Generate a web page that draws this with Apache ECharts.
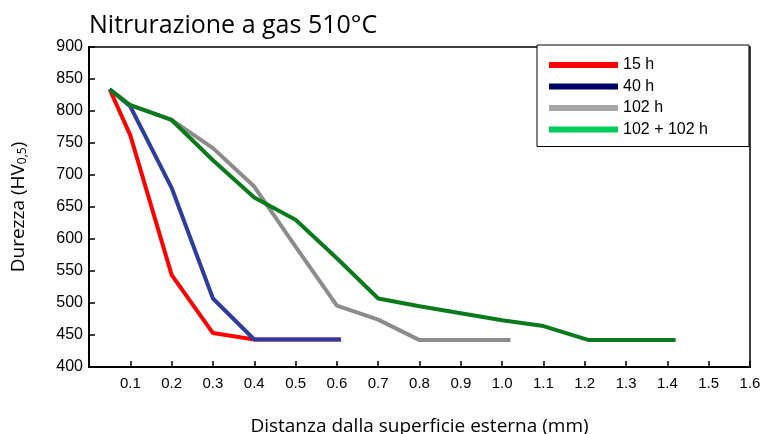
<!DOCTYPE html>
<html>
<head>
<meta charset="utf-8">
<script src="https://cdn.jsdelivr.net/npm/echarts@6/dist/echarts.min.js"></script>
<style>
  html, body { margin: 0; padding: 0; background: #fff; }
  #main { width: 762px; height: 434px; }
</style>
</head>
<body>
<div id="main"></div>
<script>
// dati
var seriesNames = ['15 h', '40 h', '102 h', '102 + 102 h'];

var dist15 = [0.05, 0.1, 0.2, 0.3, 0.4, 0.5, 0.61];
var hv15 = [834, 762, 544, 453, 443, 443, 443];

var dist40 = [0.05, 0.1, 0.2, 0.3, 0.4, 0.5, 0.61];
var hv40 = [834, 807, 680, 507, 443, 443, 443];

var dist102 = [0.05, 0.1, 0.2, 0.3, 0.4, 0.5, 0.6, 0.7, 0.8, 0.9, 1.02];
var hv102 = [834, 809, 786, 742, 682, 588, 496, 474, 442, 442, 442];

var dist204 = [0.05, 0.1, 0.2, 0.3, 0.4, 0.5, 0.6, 0.7, 0.8, 0.9, 1.0, 1.1, 1.21, 1.42];
var hv204 = [834, 809, 786, 723, 665, 630, 570, 507, 495, 484, 473, 464, 442, 442];

var xTicks = [0.1, 0.2, 0.3, 0.4, 0.5, 0.6, 0.7, 0.8, 0.9, 1.0, 1.1, 1.2, 1.3, 1.4, 1.5, 1.6];

function pairs(xs, ys) {
  return xs.map(function (x, i) { return [x, ys[i]]; });
}

var lineColors = ['#ff0000', '#2e3d9c', '#8c8c8c', '#0b7a1d'];
var legendColors = ['#ff0000', '#000066', '#a6a6a6', '#00cc5a'];
var allData = [pairs(dist15, hv15), pairs(dist40, hv40), pairs(dist102, hv102), pairs(dist204, hv204)];

var chart = echarts.init(document.getElementById('main'), null, { renderer: 'canvas' });

var option = {
  animation: false,
  title: {
    text: 'Nitrurazione a gas 510°C',
    left: 84,
    top: 8,
    textStyle: {
      fontFamily: 'Open Sans',
      fontSize: 25,
      fontWeight: 'normal',
      color: '#000'
    }
  },
  grid: {
    left: 89,
    right: 12,
    top: 47,
    bottom: 67,
    outerBoundsMode: 'none',
    show: true,
    borderColor: '#000',
    borderWidth: 1.5
  },
  legend: {
    orient: 'vertical',
    left: 537,
    top: 45,
    padding: [12, 41, 9, 12],
    itemGap: 5.5,
    itemWidth: 69,
    itemHeight: 6,
    icon: 'rect',
    backgroundColor: '#fff',
    borderColor: '#000',
    borderWidth: 1,
    borderRadius: 0,
    textStyle: {
      fontFamily: 'Liberation Sans',
      fontSize: 16,
      color: '#000'
    },
    data: seriesNames.map(function (n, i) {
      return { name: n, itemStyle: { color: legendColors[i] } };
    })
  },
  xAxis: {
    type: 'value',
    min: 0,
    max: 1.6,
    interval: 0.1,
    name: 'Distanza dalla superficie esterna (mm)',
    nameLocation: 'middle',
    nameGap: 50,
    nameTextStyle: { fontFamily: 'Open Sans', fontSize: 19, color: '#000' },
    axisLine: { lineStyle: { color: '#000', width: 2 } },
    axisTick: { inside: true, length: 6, lineStyle: { color: '#000', width: 1.5 } },
    axisLabel: {
      fontFamily: 'Liberation Sans',
      fontSize: 15,
      color: '#000',
      margin: 9,
      formatter: function (v) {
        var r = Math.round(v * 10) / 10;
        return xTicks.indexOf(r) >= 0 ? r.toFixed(1) : '';
      }
    },
    splitLine: { show: false }
  },
  yAxis: {
    type: 'value',
    min: 400,
    max: 900,
    interval: 50,
    name: '{a|Durezza (HV}{s|0,5}{a|)}',
    nameLocation: 'middle',
    nameGap: 60,
    nameTextStyle: {
      rich: {
        a: { fontFamily: 'Open Sans', fontSize: 19, color: '#000' },
        s: { fontFamily: 'Open Sans', fontSize: 12, color: '#000', padding: [9, 0, 0, 0] }
      }
    },
    axisLine: { show: true, lineStyle: { color: '#000', width: 2 } },
    axisTick: { show: true, inside: true, length: 6, lineStyle: { color: '#000', width: 1.5 } },
    axisLabel: { fontFamily: 'Liberation Sans', fontSize: 16, color: '#000', margin: 6 },
    splitLine: { show: false }
  },
  series: seriesNames.map(function (n, i) {
    return {
      name: n,
      type: 'line',
      data: allData[i],
      symbol: 'none',
      color: lineColors[i],
      lineStyle: { width: 4, color: lineColors[i] },
      z: 2 + i
    };
  })
};

chart.setOption(option);
</script>
</body>
</html>
